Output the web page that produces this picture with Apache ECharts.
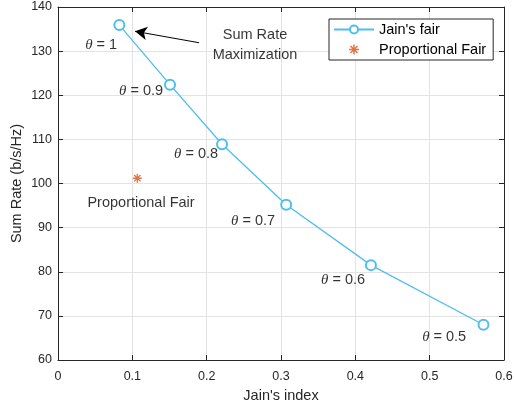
<!DOCTYPE html>
<html>
<head>
<meta charset="utf-8">
<script src="https://cdn.jsdelivr.net/npm/echarts@6/dist/echarts.min.js"></script>
<style>html,body{margin:0;padding:0;background:#fff}#c{width:514px;height:402px}</style>
</head>
<body>
<div id="c"></div>
<script>
// Data
var jainIndex = [0.0825, 0.1507, 0.2207, 0.307, 0.421, 0.5724];
var jainRate = [135.9, 122.4, 108.9, 95.2, 81.5, 68.0];
var pfIndex = [0.1067];
var pfRate = [101.2];
var thetaLabels = ['1', '0.9', '0.8', '0.7', '0.6', '0.5'];
var thetaLabelX = [0.058, 0.1117, 0.1857, 0.2625, 0.3836, 0.5195];
var thetaLabelY = [131.4, 120.9, 106.6, 91.6, 78.2, 65.2];
var pfTextPos = [0.1117, 95.5];
var sumRateTextPos = [0.265, 131.4];
var arrowFrom = [0.1898, 131.9];
var arrowTo = [0.1036, 134.5];
var xTicks = {min: 0, max: 0.6, step: 0.1};
var yTicks = {min: 60, max: 140, step: 10};

var axisColor = '#262626';
var gridColor = '#e3e3e3';
var sans = 'Liberation Sans, Arial, Helvetica, sans-serif';
var asterisk = 'path://M-1.5,-10L1.5,-10L1.5,10L-1.5,10Z M-10,-1.5L10,-1.5L10,1.5L-10,1.5Z M-6,-8.1L8.1,6L6,8.1L-8.1,-6Z M6,-8.1L8.1,-6L-6,8.1L-8.1,6Z';

var chart = echarts.init(document.getElementById('c'), null, {renderer: 'canvas'});

var annData = thetaLabels.map(function (t, i) {
  return {value: [thetaLabelX[i], thetaLabelY[i]], label: {formatter: '{i|θ}{n| = ' + t + '}'}};
});
annData.push({value: pfTextPos, label: {formatter: '{n|Proportional Fair}'}});
annData.push({value: sumRateTextPos, label: {formatter: '{n|Sum Rate}\n{n|Maximization}', align: 'center', lineHeight: 20}});

var option = {
  animation: false,
  backgroundColor: '#fff',
  grid: {left: 58, right: 10, top: 7, bottom: 42, containLabel: false, outerBoundsMode: 'none'},
  legend: {
    orient: 'vertical',
    left: 329, top: 19,
    itemWidth: 40, itemHeight: 10, itemGap: 5,
    padding: [3, 7, 3, 4],
    borderColor: axisColor, borderWidth: 1,
    backgroundColor: '#fff',
    textStyle: {fontFamily: sans, fontSize: 14.5, color: '#000', padding: [0, 0, 0, 0]},
    data: ["Jain's fair", 'Proportional Fair']
  },
  xAxis: [{
    type: 'value', min: xTicks.min, max: xTicks.max, interval: xTicks.step,
    name: "Jain's index", nameLocation: 'middle', nameGap: 28, nameMoveOverlap: false,
    nameTextStyle: {fontFamily: sans, fontSize: 14.5, color: axisColor},
    axisLine: {show: true, onZero: false, lineStyle: {color: axisColor, width: 1}},
    axisTick: {show: true, inside: true, length: 5, lineStyle: {color: axisColor}},
    axisLabel: {fontFamily: sans, fontSize: 12.5, color: axisColor, margin: 10,
      formatter: function (v) { return v === 0 ? '0' : v.toFixed(1); }},
    splitLine: {show: true, lineStyle: {color: gridColor, width: 1}}
  }, {
    type: 'value', position: 'top', min: xTicks.min, max: xTicks.max, interval: xTicks.step,
    axisLine: {show: true, onZero: false, lineStyle: {color: axisColor, width: 1}},
    axisTick: {show: true, inside: true, length: 5, lineStyle: {color: axisColor}},
    axisLabel: {show: false}, splitLine: {show: false}
  }],
  yAxis: [{
    type: 'value', min: yTicks.min, max: yTicks.max, interval: yTicks.step,
    name: 'Sum Rate (b/s/Hz)', nameLocation: 'middle', nameGap: 34, nameMoveOverlap: false,
    nameTextStyle: {fontFamily: sans, fontSize: 14.5, color: axisColor},
    axisLine: {show: true, onZero: false, lineStyle: {color: axisColor, width: 1}},
    axisTick: {show: true, inside: true, length: 5, lineStyle: {color: axisColor}},
    axisLabel: {fontFamily: sans, fontSize: 12.5, color: axisColor, margin: 6},
    splitLine: {show: true, lineStyle: {color: gridColor, width: 1}}
  }, {
    type: 'value', position: 'right', min: yTicks.min, max: yTicks.max, interval: yTicks.step,
    axisLine: {show: true, onZero: false, lineStyle: {color: axisColor, width: 1}},
    axisTick: {show: true, inside: true, length: 5, lineStyle: {color: axisColor}},
    axisLabel: {show: false}, splitLine: {show: false}
  }],
  series: [{
    name: "Jain's fair",
    type: 'line',
    data: jainIndex.map(function (x, i) { return [x, jainRate[i]]; }),
    symbol: 'emptyCircle', symbolSize: 10,
    color: '#4DBEEE',
    lineStyle: {color: '#4DBEEE', width: 1.3},
    itemStyle: {color: '#4DBEEE', borderWidth: 1.3},
    z: 3
  }, {
    name: 'Proportional Fair',
    type: 'scatter',
    data: pfIndex.map(function (x, i) { return [x, pfRate[i]]; }),
    symbol: asterisk, symbolSize: 9,
    color: '#D95319',
    itemStyle: {color: '#D95319'},
    z: 3
  }, {
    name: 'annotations',
    type: 'scatter',
    data: annData,
    symbolSize: 0,
    silent: true,
    label: {
      show: true, position: 'inside', color: '#000',
      rich: {
        i: {fontFamily: 'Liberation Serif, Times New Roman, serif', fontStyle: 'italic', fontSize: 15, color: '#000'},
        n: {fontFamily: sans, fontSize: 14.5, color: '#000'}
      }
    },
    markLine: {
      silent: true,
      symbol: ['none', 'arrow'], symbolSize: [10, 12],
      label: {show: false},
      lineStyle: {color: '#000', width: 1, type: 'solid'},
      data: [[{coord: arrowFrom}, {coord: arrowTo}]]
    },
    z: 4
  }]
};
chart.setOption(option);
</script>
</body>
</html>
